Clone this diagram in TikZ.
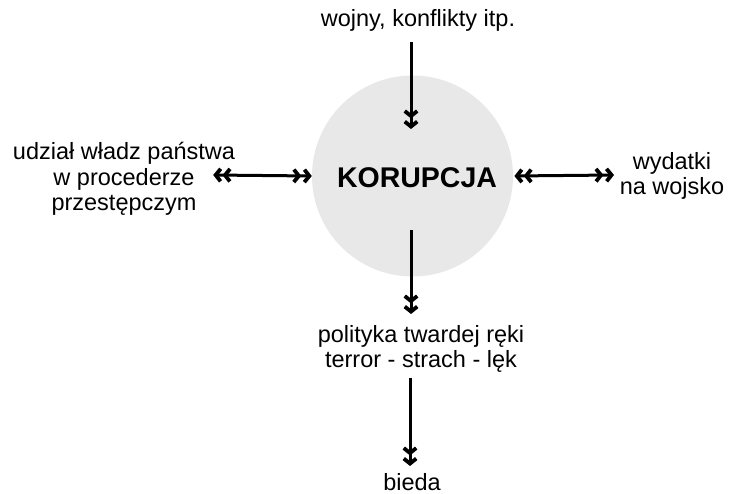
\documentclass[tikz,border=0pt]{standalone}
\usepackage{fontspec}
\setmainfont{Liberation Sans}
\usetikzlibrary{arrows.meta}
\definecolor{kolo}{RGB}{232,232,232}
\tikzset{
  opis/.style={align=center,inner sep=0pt,font=\fontsize{23.5}{25.5}\selectfont},
  grot/.tip={Straight Barb[length=5pt,width=12.5pt,line width=3.8pt]},
  strz/.style={line width=3pt,-{grot[sep=1.2pt]grot}},
  dwustr/.style={line width=3pt,{grot[sep=1.2pt]grot}-{grot[sep=1.2pt]grot}}
}
\begin{document}
\begin{tikzpicture}[x=1pt,y=-1pt]
\useasboundingbox (0,0) rectangle (732,494);
\node [circle,fill=kolo,minimum size=201pt,inner sep=0pt] (korupcja) at (412.5,176) {};
\node [font=\bfseries\fontsize{28.5}{30}\selectfont] (kor) at (417,178) {KORUPCJA};
\node [opis] (wojny) at (418,20) {wojny, konflikty itp.};
\node [opis] (wladze) at (124,179) {udział władz państwa\\w procederze\\przestępczym};
\node [opis] (wydatki) at (672,176) {wydatki\\na wojsko};
\node [opis] (polityka) at (421,349) {polityka twardej ręki\\terror - strach - lęk};
\node [opis] (bieda) at (412,482) {bieda};
% konce strzalek
\coordinate (w1) at (411,42);
\coordinate (w2) at (411,129);
\coordinate (l1) at (212,175);
\coordinate (p1) at (614,175);
\coordinate (d1) at (411,230);
\coordinate (d2) at (411,314);
\coordinate (d3) at (410,378);
\coordinate (d4) at (410,466);
\draw [strz] (w1) -- (w2);
\draw [dwustr] (l1) -- (korupcja.west);
\draw [dwustr] (korupcja.east) -- (p1);
\draw [strz] (d1) -- (d2);
\draw [strz] (d3) -- (d4);
\end{tikzpicture}
\end{document}
